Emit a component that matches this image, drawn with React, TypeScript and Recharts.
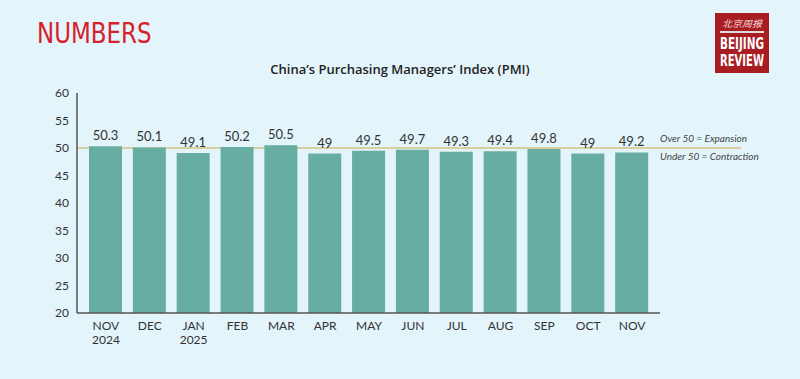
import { BarChart, Bar, XAxis, YAxis, ReferenceLine, LabelList } from "recharts";

const months = ["NOV", "DEC", "JAN", "FEB", "MAR", "APR", "MAY", "JUN", "JUL", "AUG", "SEP", "OCT", "NOV"];
const years = ["2024", "", "2025", "", "", "", "", "", "", "", "", "", ""];
const pmi = [50.3, 50.1, 49.1, 50.2, 50.5, 49, 49.5, 49.7, 49.3, 49.4, 49.8, 49, 49.2];
const yTicks = [20, 25, 30, 35, 40, 45, 50, 55, 60];

const data = months.map((m, i) => ({ key: i, month: m, year: years[i], value: pmi[i] }));

const MonthTick = (props: any) => {
  const { x, y, payload } = props;
  const d = data[payload.value];
  return (
    <g transform={`translate(${x},${y})`}>
      <text x={0} y={9} textAnchor="middle" fontSize={12} fill="#333" fontFamily="Lato">
        {d.month}
      </text>
      {d.year && (
        <text x={0} y={23} textAnchor="middle" fontSize={12} fill="#333" fontFamily="Lato">
          {d.year}
        </text>
      )}
    </g>
  );
};

const FiftyLine = (props: any) => {
  const { x1, y1, x2 } = props;
  return (
    <g>
      <line x1={x1} y1={y1} x2={x2 + 81} y2={y1} stroke="#d6cfa2" strokeWidth={2} />
      <text x={x2} y={y1 - 6} fontSize={10} fontStyle="italic" fill="#444" fontFamily="Lato">
        Over 50 = Expansion
      </text>
      <text x={x2} y={y1 + 12} fontSize={10} fontStyle="italic" fill="#444" fontFamily="Lato">
        Under 50 = Contraction
      </text>
    </g>
  );
};

const condensed = "'Liberation Sans Narrow', 'DejaVu Sans Condensed', sans-serif";

export default function App() {
  return (
    <div
      style={{
        position: "absolute",
        left: 0,
        top: 0,
        width: 800,
        height: 379,
        background: "#e3f4fb",
        overflow: "hidden",
      }}
    >
      <div
        style={{
          position: "absolute",
          left: 37,
          top: 16,
          color: "#d6212b",
          fontSize: 29,
          fontFamily: condensed,
          transform: "scaleX(0.88)",
          transformOrigin: "left top",
        }}
      >
        NUMBERS
      </div>
      <svg
        width={84}
        height={70}
        style={{ position: "absolute", left: 700, top: 8 }}
      >
        <g transform="translate(15,5)">
          <rect x={0} y={0} width={54} height={60} fill="#a81d22" />
          <text
            x={27}
            y={14}
            textAnchor="middle"
            fontSize={9}
            fontStyle="italic"
            fill="#f3dede"
            fontFamily="'Noto Sans CJK SC'"
            textLength={40}
            lengthAdjust="spacingAndGlyphs"
          >
            北京周报
          </text>
          <rect x={5} y={18} width={44} height={2} fill="#ddd" />
          <text
            x={27}
            y={36}
            textAnchor="middle"
            fontSize={15}
            fontWeight="bold"
            fill="white"
            fontFamily={condensed}
            textLength={44}
            lengthAdjust="spacingAndGlyphs"
          >
            BEIJING
          </text>
          <text
            x={27}
            y={53}
            textAnchor="middle"
            fontSize={15}
            fontWeight="bold"
            fill="white"
            fontFamily={condensed}
            textLength={44}
            lengthAdjust="spacingAndGlyphs"
          >
            REVIEW
          </text>
        </g>
      </svg>
      <div
        style={{
          position: "absolute",
          left: 0,
          width: 800,
          top: 60,
          textAlign: "center",
          fontFamily: "'Open Sans', sans-serif",
          fontWeight: 600,
          fontSize: 13,
          color: "#222",
        }}
      >
        China’s Purchasing Managers’ Index (PMI)
      </div>
      <div style={{ position: "absolute", left: 0, top: 0 }}>
        <BarChart
          width={800}
          height={379}
          data={data}
          margin={{ top: 93, right: 140, bottom: 26, left: 37 }}
        >
          <XAxis
            dataKey="key"
            type="category"
            tick={<MonthTick />}
            tickLine={false}
            axisLine={{ stroke: "#555", strokeWidth: 1.5 }}
            padding={{ left: 7, right: 6 }}
            height={40}
            interval={0}
          />
          <YAxis
            domain={[20, 60]}
            ticks={yTicks}
            tickLine={false}
            axisLine={{ stroke: "#555", strokeWidth: 1.5 }}
            tick={{ fontSize: 12, fill: "#333", fontFamily: "Lato" }}
            width={40}
            interval={0}
          />
          <ReferenceLine y={50} shape={<FiftyLine />} ifOverflow="visible" zIndex={100} />
          <Bar dataKey="value" fill="#68ada1" barSize={33} isAnimationActive={false}>
            <LabelList
              dataKey="value"
              position="top"
              offset={6}
              style={{ fontSize: 13, fill: "#333", fontFamily: "Lato" }}
            />
          </Bar>
        </BarChart>
      </div>
    </div>
  );
}
